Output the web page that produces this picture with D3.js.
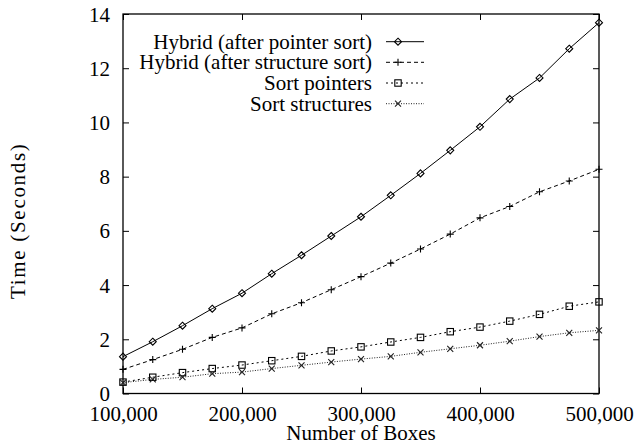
<!DOCTYPE html>
<html>
<head>
<meta charset="utf-8">
<script src="https://cdn.jsdelivr.net/npm/d3@7"></script>
<style>
  html, body { margin: 0; padding: 0; background: #fff; }
  svg { display: block; }
  text { font-family: "Liberation Serif", "Times New Roman", Times, serif; fill: #000; }
</style>
</head>
<body>
<svg id="chart" width="634" height="444"></svg>
<script>
// Number of boxes sorted
const boxes = [100000, 125000, 150000, 175000, 200000, 225000, 250000, 275000, 300000,
               325000, 350000, 375000, 400000, 425000, 450000, 475000, 500000];

// Timings in seconds
const hybridAfterPointerSort = [1.36, 1.91, 2.50, 3.13, 3.70, 4.42, 5.10, 5.81, 6.52,
                                7.31, 8.12, 8.97, 9.84, 10.86, 11.64, 12.72, 13.68];
const hybridAfterStructureSort = [0.89, 1.25, 1.63, 2.07, 2.42, 2.94, 3.35, 3.83, 4.31,
                                  4.81, 5.33, 5.88, 6.48, 6.90, 7.44, 7.84, 8.27];
const sortPointers = [0.42, 0.60, 0.77, 0.92, 1.05, 1.21, 1.37, 1.57, 1.72,
                      1.90, 2.07, 2.28, 2.45, 2.67, 2.92, 3.22, 3.38];
const sortStructures = [0.40, 0.52, 0.60, 0.73, 0.79, 0.92, 1.04, 1.16, 1.27,
                        1.37, 1.52, 1.65, 1.78, 1.93, 2.10, 2.24, 2.33];

const seriesNames = ["Hybrid (after pointer sort)", "Hybrid (after structure sort)",
                     "Sort pointers", "Sort structures"];
const xTicks = [100000, 200000, 300000, 400000, 500000];
const yTicks = [0, 2, 4, 6, 8, 10, 12, 14];

const series = [
  { name: seriesNames[0], values: hybridAfterPointerSort, dash: null, symbol: "diamond", color: "#000" },
  { name: seriesNames[1], values: hybridAfterStructureSort, dash: "4,3", symbol: "plus", color: "#000" },
  { name: seriesNames[2], values: sortPointers, dash: "2,3", symbol: "square", color: "#000" },
  { name: seriesNames[3], values: sortStructures, dash: "1,1.5", symbol: "cross", color: "#222" }
];

const svg = d3.select("#chart");
const L = 123, R = 599, T = 14, B = 393.5;
const x = d3.scaleLinear().domain([100000, 500000]).range([L, R]);
const y = d3.scaleLinear().domain([0, 14]).range([B, T]);
const FS = 21;

// Axes with inward ticks, mirrored on top and right
const gl = svg.append("g").attr("transform", `translate(${L},0)`)
  .call(d3.axisLeft(y).tickValues(yTicks).tickSize(-6).tickPadding(13).tickFormat(d3.format("d")));
const gb = svg.append("g").attr("transform", `translate(0,${B})`)
  .call(d3.axisBottom(x).tickValues(xTicks).tickSize(-6).tickPadding(0).tickFormat(d3.format(",")));
const gr = svg.append("g").attr("transform", `translate(${R},0)`)
  .call(d3.axisRight(y).tickValues(yTicks).tickSize(-6).tickFormat(""));
const gt = svg.append("g").attr("transform", `translate(0,${T})`)
  .call(d3.axisTop(x).tickValues(xTicks).tickSize(-6).tickFormat(""));

[gl, gb, gr, gt].forEach(g => {
  g.select(".domain").remove();
  g.selectAll(".tick line").attr("stroke", "#000").attr("stroke-width", 1);
  g.selectAll("text").attr("font-size", FS).attr("font-family", null).style("fill", "#000");
});
gl.selectAll("text").attr("dy", "0.34em");
gb.selectAll("text").attr("y", 27.5).attr("dy", 0);

// Plot frame
svg.append("rect")
  .attr("x", L).attr("y", T).attr("width", R - L).attr("height", B - T)
  .attr("fill", "none").attr("stroke", "#000").attr("stroke-width", 1.3);

// Axis titles
svg.append("text")
  .attr("transform", `translate(25,${(T + B) / 2 + 17}) rotate(-90)`)
  .attr("text-anchor", "middle").attr("font-size", FS)
  .attr("letter-spacing", 1.7)
  .text("Time (Seconds)");
svg.append("text")
  .attr("x", (L + R) / 2).attr("y", 440)
  .attr("text-anchor", "middle").attr("font-size", FS)
  .text("Number of Boxes");

// Point symbols
function drawSymbol(g, kind, cx, cy, color) {
  const s = 3.5;
  if (kind === "diamond") {
    g.append("path").attr("d", `M${cx},${cy - s}L${cx + s},${cy}L${cx},${cy + s}L${cx - s},${cy}Z`)
      .attr("fill", "none").attr("stroke", color).attr("stroke-width", 1.1);
  } else if (kind === "plus") {
    g.append("path").attr("d", `M${cx - s},${cy}H${cx + s}M${cx},${cy - s}V${cy + s}`)
      .attr("fill", "none").attr("stroke", color).attr("stroke-width", 1.1);
  } else if (kind === "square") {
    g.append("rect").attr("x", cx - 3.2).attr("y", cy - 3.2).attr("width", 6.4).attr("height", 6.4)
      .attr("fill", "none").attr("stroke", color).attr("stroke-width", 1.1);
  } else {
    const c = 3;
    g.append("path").attr("d", `M${cx - c},${cy - c}L${cx + c},${cy + c}M${cx - c},${cy + c}L${cx + c},${cy - c}`)
      .attr("fill", "none").attr("stroke", color).attr("stroke-width", 1.1);
  }
}

const line = d3.line().x((d, i) => x(boxes[i])).y(d => y(d));

series.forEach(s => {
  const g = svg.append("g");
  g.append("path").datum(s.values)
    .attr("d", line)
    .attr("fill", "none").attr("stroke", s.color).attr("stroke-width", 1)
    .attr("stroke-dasharray", s.dash);
  s.values.forEach((v, i) => drawSymbol(g, s.symbol, x(boxes[i]), y(v), s.color));
});

// Legend
const legendRows = [41.7, 62.3, 83, 103.7];
series.forEach((s, i) => {
  const ly = legendRows[i];
  const g = svg.append("g");
  g.append("text").attr("x", 372).attr("y", ly + 7).attr("text-anchor", "end")
    .attr("font-size", FS).text(s.name);
  g.append("line").attr("x1", 386).attr("x2", 424).attr("y1", ly).attr("y2", ly)
    .attr("stroke", s.color).attr("stroke-width", 1).attr("stroke-dasharray", s.dash);
  drawSymbol(g, s.symbol, 398, ly, s.color);
});
</script>
</body>
</html>
